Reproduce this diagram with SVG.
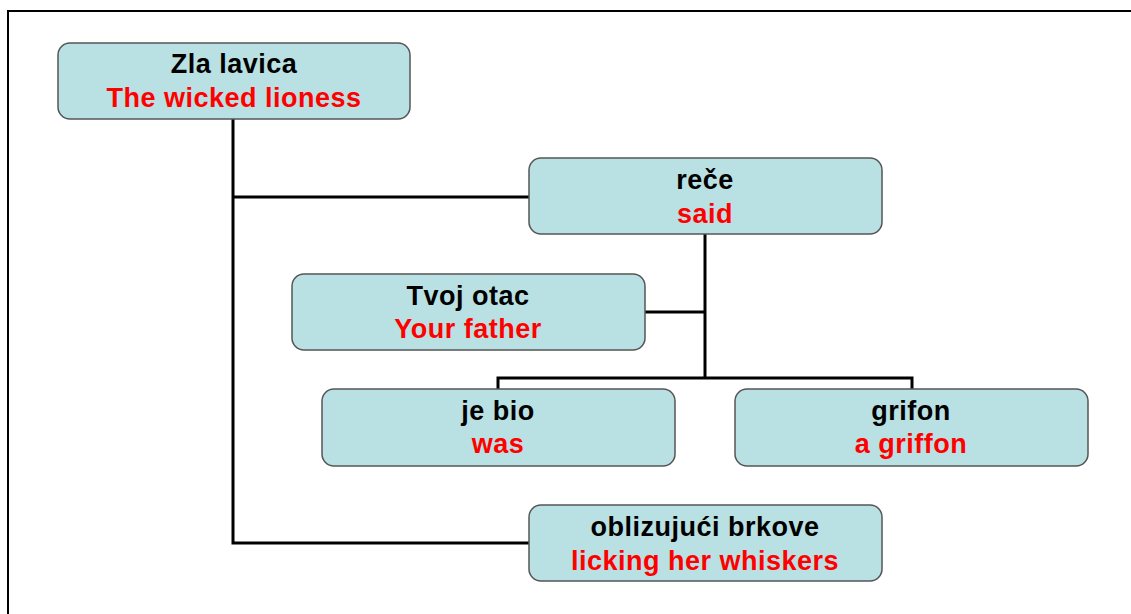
<svg xmlns="http://www.w3.org/2000/svg" width="1131" height="614" viewBox="0 0 1131 614">
<style>
.box{fill:#b9e0e3;stroke:#555;stroke-width:1.5}
.t{font-family:"Liberation Sans",Arial,sans-serif;font-weight:bold;font-size:27px;letter-spacing:0.5px;text-anchor:middle}
.k{fill:#000}
.r{fill:#ff0000}
.c{fill:none;stroke:#000;stroke-width:3}
</style>
<rect width="1131" height="614" fill="#fff"/>
<path d="M8,614 V11 H1131" fill="none" stroke="#000" stroke-width="2"/>
<g id="connectors">
<path class="c" d="M233,119 V543 H529"/>
<path class="c" d="M233,197 H529"/>
<path class="c" d="M705,234 V378"/>
<path class="c" d="M645,312 H705"/>
<path class="c" d="M498,389 V378 H912 V389"/>
</g>
<g id="n1"><rect class="box" x="58" y="43" width="352" height="76" rx="12"/>
<text class="t k" x="234" y="73">Zla lavica</text><text class="t r" x="234" y="107">The wicked lioness</text></g>
<g id="n2"><rect class="box" x="529" y="158" width="353" height="76" rx="12"/>
<text class="t k" x="705" y="189">reče</text><text class="t r" x="705" y="223">said</text></g>
<g id="n3"><rect class="box" x="292" y="274" width="353" height="76" rx="12"/>
<text class="t k" x="468" y="305">Tvoj otac</text><text class="t r" x="468" y="338">Your father</text></g>
<g id="n4"><rect class="box" x="322" y="389" width="353" height="77" rx="12"/>
<text class="t k" x="498" y="420">je bio</text><text class="t r" x="498" y="453">was</text></g>
<g id="n5"><rect class="box" x="735" y="389" width="353" height="77" rx="12"/>
<text class="t k" x="911" y="420">grifon</text><text class="t r" x="911" y="453">a griffon</text></g>
<g id="n6"><rect class="box" x="529" y="505" width="353" height="76" rx="12"/>
<text class="t k" x="705" y="536">oblizujući brkove</text><text class="t r" x="705" y="570">licking her whiskers</text></g>
</svg>
